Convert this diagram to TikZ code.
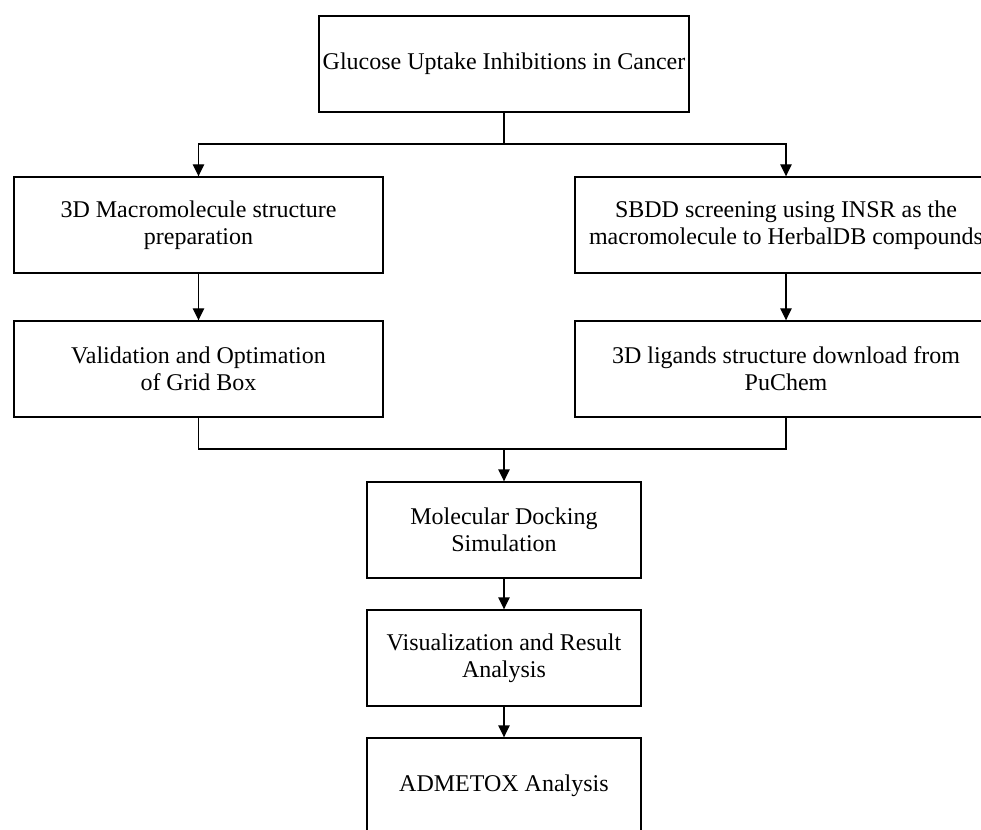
\documentclass[tikz,border=0pt]{standalone}
\usepackage{fontspec}
\setmainfont{Liberation Serif}
\usetikzlibrary{arrows.meta}

\tikzset{
  box/.style={draw, line width=1pt, align=center, inner sep=0pt,
    minimum height=72pt, font=\fontsize{18pt}{20pt}\selectfont},
  arr/.style={line width=1pt, -{Triangle[length=9pt,width=8.5pt]}},
  wire/.style={line width=1pt}
}

\begin{document}
\begin{tikzpicture}[x=0.75pt,y=-0.75pt]
\useasboundingbox (0,0) rectangle (981,830);
\clip (0,0) rectangle (981,830);
% Top box
\node[box, minimum width=277.5pt] (goal) at (504,64) {Glucose Uptake Inhibitions in Cancer};
% Left column
\node[box, minimum width=276.75pt] (prep) at (198.5,225) {3D Macromolecule structure\\preparation};
\node[box, minimum width=276.75pt] (valid) at (198.5,369) {Validation and Optimation\\of Grid Box};
% Right column
\node[box, minimum width=316.5pt] (sbdd) at (786,225) {SBDD screening using INSR as the\\macromolecule to HerbalDB compounds};
\node[box, minimum width=316.5pt] (lig) at (786,369) {3D ligands structure download from\\PuChem};
% Middle column
\node[box, minimum width=205.5pt] (dock) at (504,530) {Molecular Docking\\Simulation};
\node[box, minimum width=205.5pt] (vis) at (504,658) {Visualization and Result\\Analysis};
\node[box, minimum width=205.5pt] (admet) at (504,786) {ADMETOX Analysis};
% Split and join points
\coordinate (split) at (504,144);
\coordinate (join) at (504,449);
% Connectors
\draw[wire] (goal.south) -- (split);
\draw[arr] (split) -| (prep.north);
\draw[arr] (split) -| (sbdd.north);
\draw[arr] (prep) -- (valid);
\draw[arr] (sbdd) -- (lig);
\draw[wire] (valid.south) |- (join) -| (lig.south);
\draw[arr] (join) -- (dock.north);
\draw[arr] (dock) -- (vis);
\draw[arr] (vis) -- (admet);
\end{tikzpicture}
\end{document}
